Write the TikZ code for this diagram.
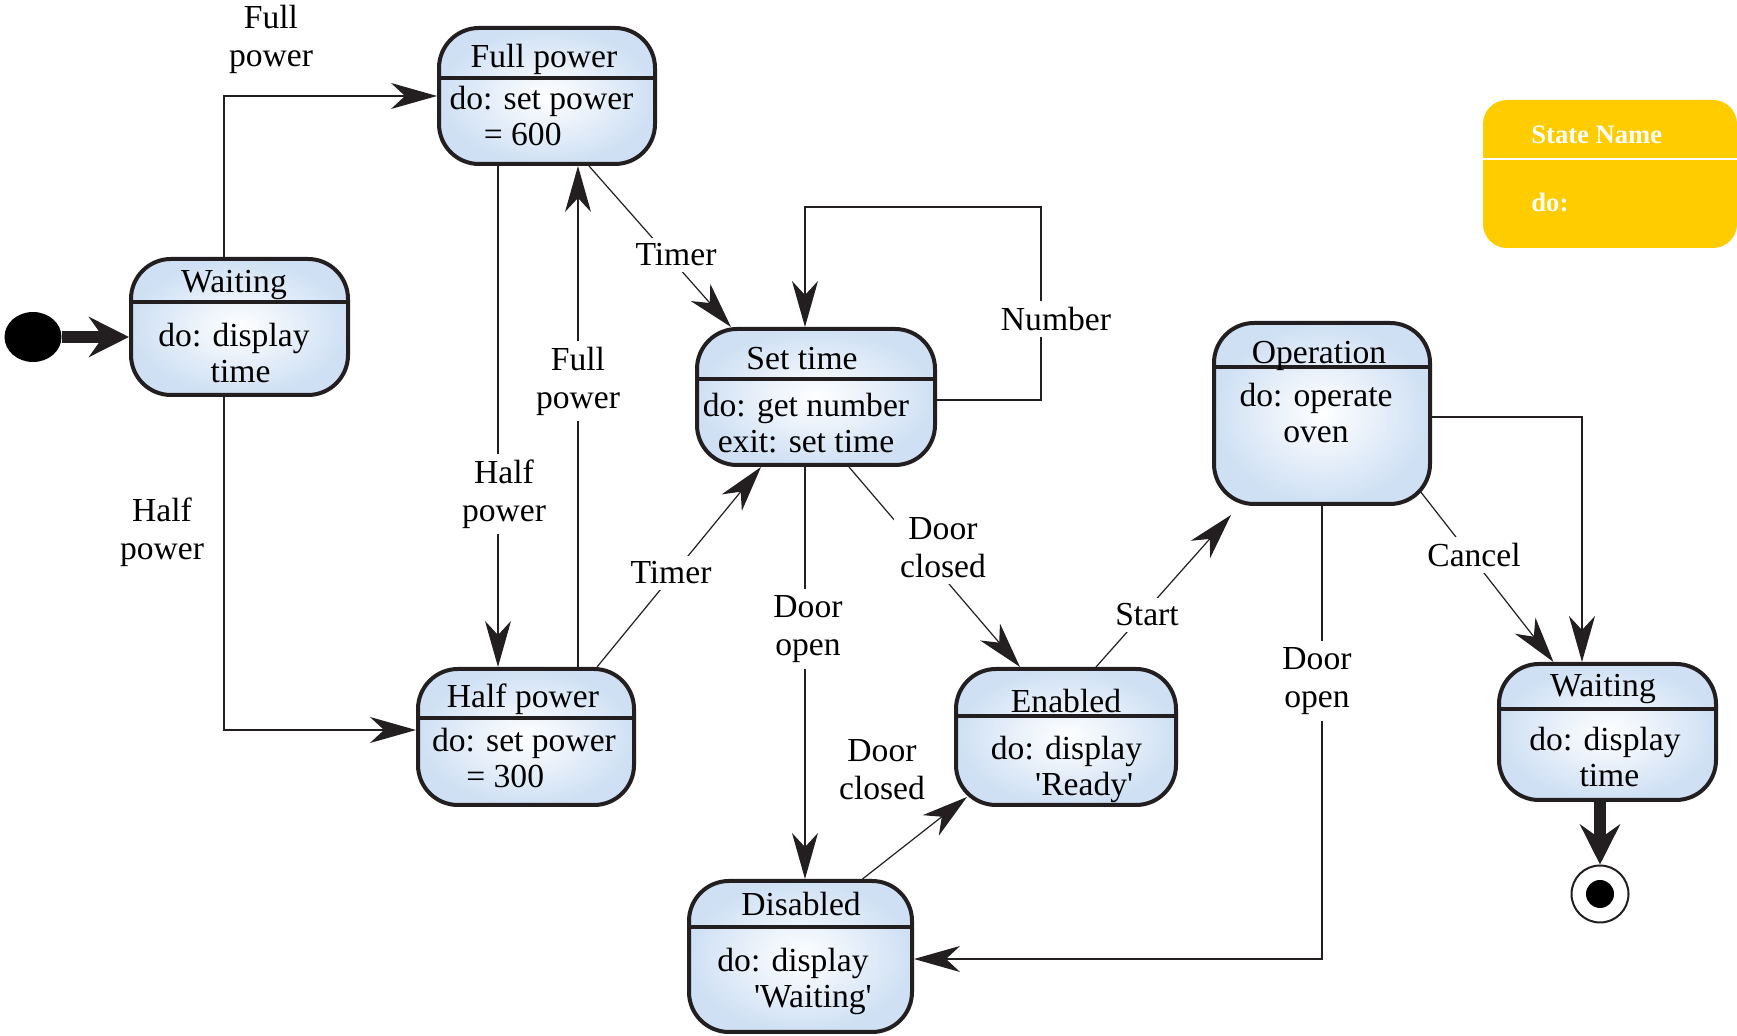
\documentclass[tikz,border=0pt]{standalone}
\usepackage{fontspec}
\setmainfont{Liberation Serif}
\usepackage{tikz}
\usetikzlibrary{arrows.meta,positioning,shapes.geometric}
\definecolor{linec}{HTML}{231F20}
\definecolor{stateblue}{HTML}{CFE0F4}
\definecolor{legyellow}{HTML}{FFCC00}
\tikzset{
  uml/state/.style={draw=linec, line width=2pt, rounded corners=20pt, inner sep=0pt, inner color=white, outer color=stateblue},
  uml/divider/.style={path picture={\draw[line width=1.6pt, draw=linec] ([yshift=-#1]path picture bounding box.north west) -- ([yshift=-#1]path picture bounding box.north east);}},
  uml/title/.style={font=\fontsize{16.8}{18}\selectfont, inner sep=0pt},
  uml/body/.style={font=\fontsize{16.8}{18}\selectfont, inner sep=0pt, align=center},
  uml/init/.style={fill=black, ellipse, minimum width=28.5pt, minimum height=25pt, inner sep=0pt},
  uml/final/.style={draw=linec, line width=1pt, circle, minimum size=28.5pt, inner sep=0pt, path picture={\fill[black] (path picture bounding box.center) circle (7pt);}},
  uml/legend/.style={fill=legyellow, rounded corners=12pt, minimum width=127pt, minimum height=74pt, inner sep=0pt, path picture={\draw[white, line width=1.2pt] ([yshift=-29.5pt]path picture bounding box.north west) -- ([yshift=-29.5pt]path picture bounding box.north east);}},
  uml/legtext/.style={text=white, font=\fontsize{13.3}{15}\selectfont\bfseries, inner sep=0pt, anchor=west},
  lbl/.style={font=\fontsize{16.8}{19}\selectfont, align=center, fill=white, inner sep=3pt},
  arr/.style={draw=linec, line width=0.6pt, -{Stealth[length=23pt, width=13pt, inset=7pt]}},
  bigarr/.style={draw=linec, line width=6pt, -{Stealth[length=20pt, width=20pt, inset=7pt]}}
}
\begin{document}
\begin{tikzpicture}[x=0.5pt, y=-0.5pt]
\useasboundingbox (0,0) rectangle (1737,1036);
% states
\node[uml/init] (init) at (33,337) {};
\node[uml/state, minimum width=108.5pt, minimum height=68pt, uml/divider=21.5pt] (wait1) at (239.5,327) {};
\node[uml/title] (wait1-t) at (234,285) {Waiting};
\node[uml/body] (wait1-b) at (234,353) {do: display\\\kern6.6pt time};

\node[uml/state, minimum width=108pt, minimum height=68pt, uml/divider=25pt] (full) at (547,96) {};
\node[uml/title] (full-t) at (544,59) {Full power};
\node[uml/body] (full-b) at (541.5,116) {do: set power\\= 600\kern18.8pt};

\node[uml/state, minimum width=119pt, minimum height=68pt, uml/divider=25pt] (settime) at (816,397) {};
\node[uml/title] (settime-t) at (802,359) {Set time};
\node[uml/body] (settime-b) at (806,423) {do: get number\\exit: set time};

\node[uml/state, minimum width=108pt, minimum height=68pt, uml/divider=24.5pt] (half) at (526,737) {};
\node[uml/title] (half-t) at (523,699) {Half power};
\node[uml/body] (half-b) at (524,758) {do: set power\\= 300\kern18.8pt};

\node[uml/state, minimum width=108pt, minimum height=90.5pt, uml/divider=22pt] (oper) at (1322,413.5) {};
\node[uml/title] (oper-t) at (1319,356) {Operation};
\node[uml/body] (oper-b) at (1316,413) {do: operate\\oven};

\node[uml/state, minimum width=110pt, minimum height=68pt, uml/divider=23.5pt] (enab) at (1066,737) {};
\node[uml/title] (enab-t) at (1066,701) {Enabled};
\node[uml/body] (enab-b) at (1066.5,769) {do: display\\\kern17.7pt\textquotesingle Ready\textquotesingle};

\node[uml/state, minimum width=111.5pt, minimum height=75.5pt, uml/divider=23pt] (disab) at (800.5,956.5) {};
\node[uml/title] (disab-t) at (801,904) {Disabled};
\node[uml/body] (disab-b) at (793,981) {do: display\\\kern19.9pt\textquotesingle Waiting\textquotesingle};

\node[uml/state, minimum width=108.5pt, minimum height=68pt, uml/divider=22.5pt] (wait2) at (1607.5,732) {};
\node[uml/title] (wait2-t) at (1603,689) {Waiting};
\node[uml/body] (wait2-b) at (1605,757) {do: display\\\kern4.4pt time};

\node[uml/final] (final) at (1600,894) {};

% legend
\node[uml/legend] (legend) at (1610,174) {};
\node[uml/legtext] (legend-t) at (1531,135) {State Name};
\node[uml/legtext] (legend-b) at (1531,202) {do:};

% transitions
\draw[bigarr] (init) -- (init -| wait1.west);
\draw[arr] ([xshift=-7.75pt]wait1.north) |- (full.west);
\draw[arr] ([xshift=-7.75pt]wait1.south) |- ([yshift=3.5pt]half.west);
\draw[arr] ([xshift=-24.5pt]full.south) -- ([xshift=-24.5pt]full.south |- half.north);
\draw[arr] ([xshift=26pt]half.north) -- ([xshift=26pt]half.north |- full.south);
\draw[arr] ([xshift=21pt]full.south) -- ([xshift=-42.5pt]settime.north);
\draw[arr] ([xshift=35.5pt]half.north) -- ([xshift=-27.5pt]settime.south);
\coordinate (numc) at (1041,207);
\draw[arr] ([yshift=-1.5pt]settime.east) -| (numc) -| ([xshift=-5.5pt]settime.north);
\draw[arr] ([xshift=-5.5pt]settime.south) -- ([xshift=-5.5pt]settime.south |- disab.north);
\draw[arr] ([xshift=16.5pt]settime.south) -- ([xshift=-23pt]enab.north);
\draw[arr] ([xshift=31pt]disab.north) -- ([xshift=6.5pt,yshift=5pt]enab.south west);
\draw[arr] ([xshift=15pt]enab.north) -- ([xshift=9.5pt,yshift=-4.5pt]oper.south west);
\draw[arr] (oper.south) |- ([yshift=-1.25pt]disab.east);
\draw[arr] ([xshift=-6pt,yshift=7.5pt]oper.south east) -- ([xshift=-27pt]wait2.north);
\draw[arr] ([yshift=-1.75pt]oper.east) -| ([xshift=-12.75pt]wait2.north);
\draw[bigarr] ([xshift=-3.75pt]wait2.south) -- ([xshift=-3.75pt]wait2.south |- final.north);

% labels
\node[lbl] (lfull1) at (271,39) {Full\\power};
\node[lbl] (lhalf1) at (162,532) {Half\\power};
\node[lbl] (lhalf2) at (504,494) {Half\\power};
\node[lbl] (lfull2) at (578,381) {Full\\power};
\node[lbl] (ltimer1) at (676,255) {Timer};
\node[lbl] (ltimer2) at (671,573) {Timer};
\node[lbl] (lnumber) at (1056,319) {Number};
\node[lbl] (lopen1) at (808,629) {Door\\open};
\node[lbl] (lclosed1) at (943,548) {Door\\closed};
\node[lbl] (lclosed2) at (882,770) {Door\\closed};
\node[lbl] (lstart) at (1147,615) {Start};
\node[lbl] (lopen2) at (1317,681) {Door\\open};
\node[lbl] (lcancel) at (1474,555) {Cancel};
\end{tikzpicture}
\end{document}
